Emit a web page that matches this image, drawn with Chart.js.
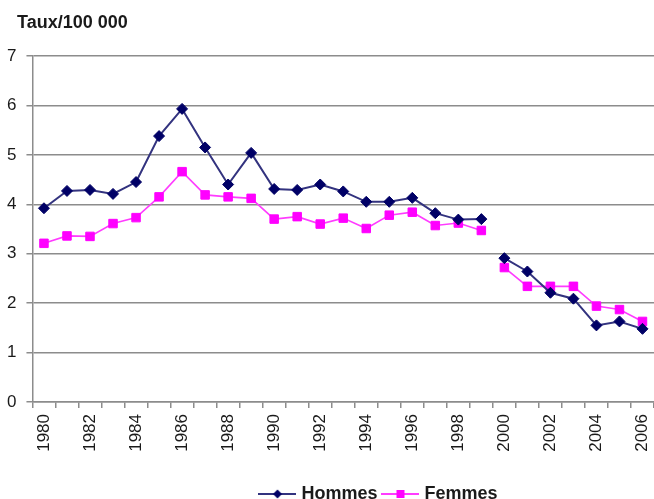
<!DOCTYPE html>
<html>
<head>
<meta charset="utf-8">
<script src="https://cdn.jsdelivr.net/npm/chart.js@4.4.1/dist/chart.umd.min.js"></script>
<style>
  html, body { margin: 0; padding: 0; background: #fff; overflow: hidden; }
  /* a few px wider than the window: chart.js keeps 7px free on the right, the original runs to the edge */
  #wrap { width: 661px; height: 499px; position: relative; }
</style>
</head>
<body>
<div id="wrap"><canvas id="c"></canvas></div>
<script>
"use strict";
// Taux/100 000, hommes vs femmes, 1980-2006 (series break between 1999 and 2000)
const YEARS = ["1980", "1981", "1982", "1983", "1984", "1985", "1986", "1987", "1988", "1989",
  "1990", "1991", "1992", "1993", "1994", "1995", "1996", "1997", "1998", "1999",
  "2000", "2001", "2002", "2003", "2004", "2005", "2006"];
const HOMMES = [3.92, 4.27, 4.29, 4.21, 4.45, 5.38, 5.93, 5.15, 4.40, 5.04,
  4.31, 4.29, 4.40, 4.26, 4.05, 4.05, 4.13, 3.82, 3.69, 3.70,
  2.91, 2.64, 2.21, 2.09, 1.55, 1.63, 1.48];
const FEMMES = [3.21, 3.36, 3.35, 3.61, 3.73, 4.15, 4.66, 4.19, 4.15, 4.12,
  3.70, 3.75, 3.60, 3.72, 3.51, 3.78, 3.84, 3.57, 3.62, 3.47,
  2.72, 2.34, 2.34, 2.34, 1.94, 1.87, 1.63];
const Y_MIN = 0, Y_MAX = 7, Y_STEP = 1;
const TITLE = "Taux/100 000";
const BREAK_AFTER = "1999";

const FONT = '"Liberation Sans", Arial, Helvetica, sans-serif';
const C_TEXT = "#1a1a1a";
const C_GRID = "#8c8c8c";
const C_H_LINE = "#33337f", C_H_PT = "#000066";
const C_F_LINE = "#ff3cff", C_F_PT = "#ff00ff";

const breakIdx = YEARS.indexOf(BREAK_AFTER);

// excel-like legend swatch: short line with the marker in the middle
function swatch(lineColor, ptColor, shape) {
  const c = document.createElement("canvas");
  c.width = 38; c.height = 12;
  const g = c.getContext("2d");
  g.strokeStyle = lineColor; g.lineWidth = 2;
  g.beginPath(); g.moveTo(0, 6); g.lineTo(38, 6); g.stroke();
  g.fillStyle = ptColor;
  g.beginPath();
  if (shape === "diamond") {
    g.moveTo(19, 1.5); g.lineTo(23.5, 6); g.lineTo(19, 10.5); g.lineTo(14.5, 6);
  } else {
    g.rect(15, 2, 8, 8);
  }
  g.closePath(); g.fill();
  return c;
}
const SWATCHES = [swatch(C_H_LINE, C_H_PT, "diamond"), swatch(C_F_LINE, C_F_PT, "square")];

const titlePlugin = {
  id: "topTitle",
  afterDraw(chart) {
    const ctx = chart.ctx;
    ctx.save();
    ctx.font = "bold 18px " + FONT;
    ctx.fillStyle = C_TEXT;
    ctx.textBaseline = "top";
    ctx.textAlign = "left";
    ctx.fillText(TITLE, 17, 14);
    ctx.restore();
  },
};

// nudge legend right/down to where the original sits
const legendShift = {
  id: "legendShift",
  afterLayout(chart) {
    const l = chart.legend;
    if (!l) return;
    l.left += 51; l.right += 51;
    l.top += 14; l.bottom += 14;
  },
};

const segGap = { borderColor: (ctx) => (ctx.p0DataIndex === breakIdx ? "rgba(0,0,0,0)" : undefined) };

new Chart(document.getElementById("c"), {
  type: "line",
  data: {
    labels: YEARS,
    datasets: [
      {
        label: "Hommes",
        data: HOMMES,
        borderColor: C_H_LINE,
        borderWidth: 2,
        pointStyle: "rectRot",
        pointRadius: 5.5,
        pointBackgroundColor: C_H_PT,
        pointBorderColor: C_H_PT,
        pointBorderWidth: 1,
        tension: 0,
        segment: segGap,
      },
      {
        label: "Femmes",
        data: FEMMES,
        borderColor: C_F_LINE,
        borderWidth: 1.6,
        pointStyle: "rect",
        pointRadius: 6,
        pointBackgroundColor: C_F_PT,
        pointBorderColor: C_F_PT,
        pointBorderWidth: 1,
        tension: 0,
        segment: segGap,
      },
    ],
  },
  options: {
    responsive: true,
    maintainAspectRatio: false,
    animation: false,
    events: [],
    layout: { padding: { top: 56, left: -3, right: 0, bottom: 0 } },
    plugins: {
      tooltip: { enabled: false },
      legend: {
        position: "bottom",
        labels: {
          usePointStyle: true,
          pointStyleWidth: 30,
          padding: 8,
          color: C_TEXT,
          font: { family: FONT, size: 18, weight: "bold" },
          generateLabels(chart) {
            const items = Chart.defaults.plugins.legend.labels.generateLabels(chart);
            return items.map((it, i) => Object.assign(it, { pointStyle: SWATCHES[i] }));
          },
        },
      },
    },
    scales: {
      x: {
        type: "category",
        offset: true,
        afterFit(s) { s.height = 61; s.paddingLeft = 0; s.paddingRight = 0; },
        grid: { offset: true, drawOnChartArea: false, tickLength: 6, color: C_GRID, lineWidth: 1.5 },
        border: { color: C_GRID, width: 1.5 },
        ticks: {
          autoSkip: false,
          minRotation: 90,
          maxRotation: 90,
          padding: 6,
          color: C_TEXT,
          font: { family: FONT, size: 17 },
          callback: (v, i) => (i % 2 === 0 ? YEARS[i] : ""),
        },
      },
      y: {
        min: Y_MIN,
        max: Y_MAX,
        grid: { color: C_GRID, lineWidth: 1.5, tickLength: 6 },
        border: { color: C_GRID, width: 1.5 },
        ticks: {
          stepSize: Y_STEP,
          padding: 10,
          color: C_TEXT,
          font: { family: FONT, size: 17 },
        },
      },
    },
  },
  plugins: [titlePlugin, legendShift],
});
</script>
</body>
</html>
